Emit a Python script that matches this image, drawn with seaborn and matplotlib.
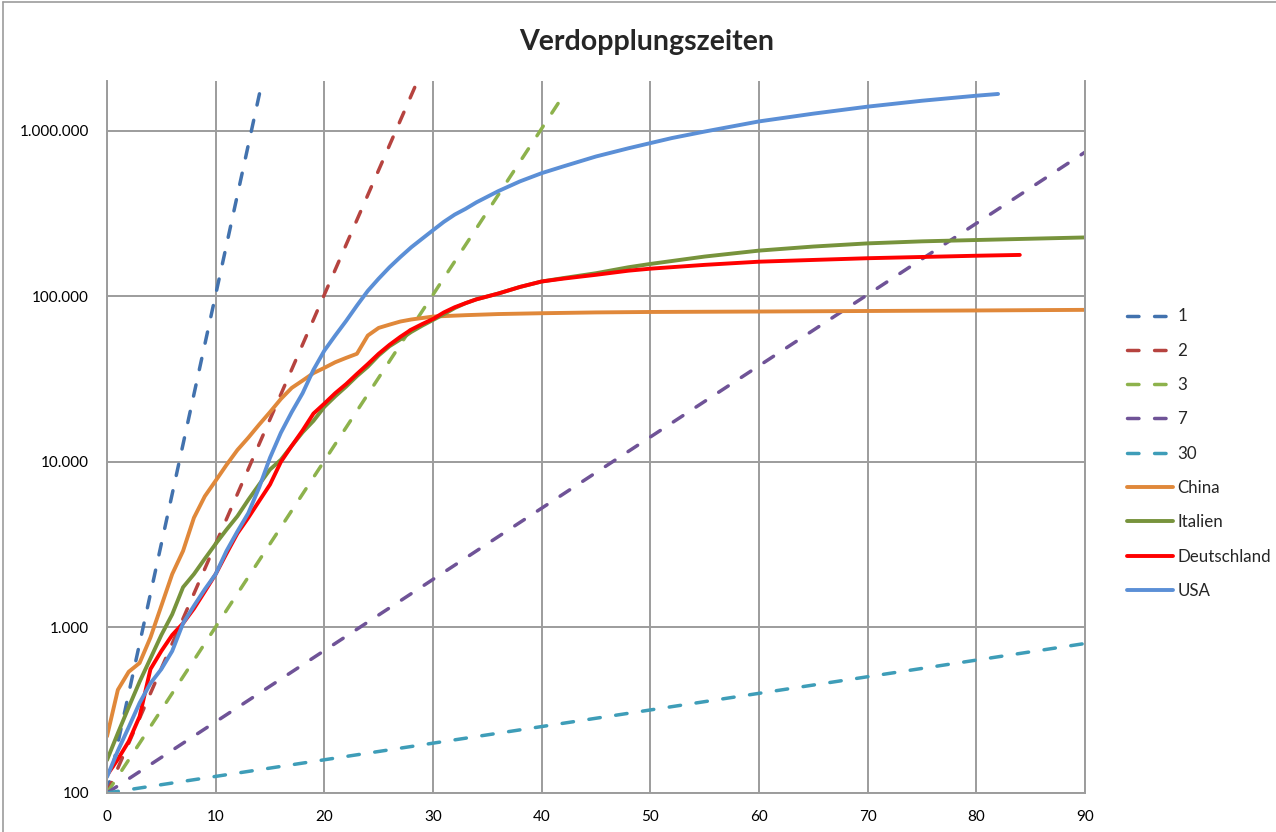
import matplotlib
matplotlib.use("Agg")
import matplotlib.pyplot as plt
import matplotlib.ticker as mtick
from matplotlib.lines import Line2D
import seaborn as sns

# Verdopplungslinien (Start 100, Verdopplung alle d Tage)
dbl_labels = ["1", "2", "3", "7", "30"]
dbl1_x, dbl1_y = [0, 15], [100, 3276800]
dbl2_x, dbl2_y = [0, 30], [100, 3276800]
dbl3_x, dbl3_y = [0, 42], [100, 1638400]
dbl7_x, dbl7_y = [0, 90], [100, 743000]
dbl30_x, dbl30_y = [0, 90], [100, 800]

# Fallzahlen (Tage seit 100 Fällen)
china_x = [0, 1, 2, 3, 4, 5, 6, 7, 8, 9, 10, 11, 12, 13, 14, 15, 16, 17, 18, 19,
           20, 21, 22, 23, 24, 25, 26, 27, 28, 30, 33, 36, 40, 45, 50, 60, 70, 80, 90]
china_y = [220, 420, 540, 610, 870, 1350, 2100, 2900, 4600, 6200, 7700, 9600,
           11800, 14000, 16800, 20000, 24000, 28000, 31000, 34400, 37000, 40000,
           42500, 45000, 58000, 64500, 67500, 70500, 72500, 75500, 77000, 78200,
           79100, 80000, 80500, 81000, 81600, 82200, 82900]

italien_x = [0, 1, 2, 3, 4, 5, 6, 7, 8, 9, 10, 11, 12, 13, 14, 15, 16, 17, 18, 19,
             20, 21, 22, 23, 24, 25, 26, 27, 28, 29, 30, 31, 32, 33, 34, 36, 38, 40,
             42, 45, 48, 50, 55, 60, 65, 70, 75, 80, 90]
italien_y = [158, 230, 330, 470, 650, 900, 1200, 1750, 2100, 2600, 3200, 3900,
             4700, 5900, 7300, 9000, 10300, 12500, 15100, 17700, 21500, 24900,
             28500, 33000, 37600, 44000, 50000, 55000, 61000, 66500, 72000, 78000,
             85000, 91000, 96000, 104000, 114000, 123000, 129000, 138000, 150000,
             157000, 174000, 189000, 200000, 209000, 215000, 219000, 227000]

deutschland_x = [0, 1, 2, 3, 4, 5, 6, 7, 8, 9, 10, 11, 12, 13, 14, 15, 16, 17, 18,
                 19, 20, 21, 22, 23, 24, 25, 26, 27, 28, 29, 30, 31, 32, 33, 34, 36,
                 38, 40, 42, 45, 48, 50, 55, 60, 65, 70, 75, 80, 84]
deutschland_y = [128, 160, 205, 290, 560, 720, 900, 1060, 1300, 1650, 2100, 2800,
                 3700, 4600, 5800, 7300, 10000, 12500, 15500, 19600, 22500, 26000,
                 29500, 34000, 39000, 45000, 51000, 57000, 63000, 68000, 73000,
                 80000, 86000, 91000, 96000, 104000, 114000, 123000, 128000,
                 135000, 143000, 147000, 155000, 162000, 166000, 170000, 173000,
                 176000, 178000]

usa_x = [0, 1, 2, 3, 4, 5, 6, 7, 8, 9, 10, 11, 12, 13, 14, 15, 16, 17, 18, 19, 20,
         21, 22, 23, 24, 25, 26, 27, 28, 29, 30, 31, 32, 33, 34, 36, 38, 40, 42, 45,
         48, 50, 52, 55, 60, 65, 70, 75, 80, 82]
usa_y = [125, 180, 250, 350, 460, 560, 720, 1060, 1350, 1700, 2100, 2900, 3800,
         4900, 7000, 10600, 15000, 20000, 26000, 36000, 47000, 58000, 71000, 88000,
         108000, 128000, 150000, 173000, 198000, 223000, 251000, 282000, 312000,
         338000, 370000, 432000, 495000, 555000, 610000, 700000, 785000, 843000,
         905000, 990000, 1140000, 1270000, 1400000, 1520000, 1630000, 1670000]

y_ticks = [100, 1000, 10000, 100000, 1000000]
y_ticklabels = ["100", "1.000", "10.000", "100.000", "1.000.000"]

FARBEN = {
    "1": "#4272AE", "2": "#B6433F", "3": "#8DB24C", "7": "#6F5397", "30": "#3E9DB8",
    "China": "#E0883A", "Italien": "#77933C", "Deutschland": "#FF0000", "USA": "#5B8FD6",
}
GRID = "#9C9C9C"

sns.set_style("white")
plt.rcParams["font.family"] = ["Lato", "DejaVu Sans"]

fig = plt.figure(figsize=(12.76, 8.32), dpi=100)
ax = fig.add_axes([107 / 1276, 39 / 832, (1085 - 107) / 1276, (793 - 81) / 832])
ax.set_yscale("log")

gestrichelt = [(dbl1_x, dbl1_y), (dbl2_x, dbl2_y), (dbl3_x, dbl3_y),
               (dbl7_x, dbl7_y), (dbl30_x, dbl30_y)]
for lab, (xs, ys) in zip(dbl_labels, gestrichelt):
    sns.lineplot(x=xs, y=ys, ax=ax, color=FARBEN[lab], lw=2.5,
                 linestyle=(0, (3.3, 4.5)), dash_capstyle="round", label=lab)

laender = [("China", china_x, china_y), ("Italien", italien_x, italien_y),
           ("Deutschland", deutschland_x, deutschland_y), ("USA", usa_x, usa_y)]
for lab, xs, ys in laender:
    sns.lineplot(x=xs, y=ys, ax=ax, color=FARBEN[lab], lw=2.8,
                 solid_capstyle="round", solid_joinstyle="round", label=lab)

ax.set_xlim(0, 90)
ax.set_ylim(100, 2000000)
ax.set_xticks(range(0, 91, 10))
ax.yaxis.set_major_locator(mtick.FixedLocator(y_ticks))
ax.yaxis.set_minor_locator(mtick.NullLocator())
ax.set_yticklabels(y_ticklabels)
ax.grid(True, which="major", color=GRID, lw=1.4)
ax.tick_params(axis="both", labelsize=11, colors="black", length=5,
               width=1.2, direction="out", color=GRID)
ax.tick_params(axis="x", pad=7)
ax.tick_params(axis="y", pad=8)
ax.spines["top"].set_visible(False)
for side in ["left", "bottom", "right"]:
    ax.spines[side].set_color(GRID)
    ax.spines[side].set_linewidth(1.4)

handles, labels = ax.get_legend_handles_labels()
if ax.get_legend() is not None:
    ax.get_legend().remove()
fig.legend(handles, labels, loc="upper left",
           bbox_to_anchor=(1119 / 1276, (832 - 300) / 832),
           frameon=False, fontsize=12.2, labelspacing=1.08, handlelength=2.7,
           handletextpad=0.25, borderpad=0)

fig.text(647 / 1276, 1 - 42 / 832, "Verdopplungszeiten", ha="center", va="center",
         fontsize=20.5, fontweight="bold")

# Rahmen des Diagrammbereichs
fig.add_artist(Line2D([3 / 1276, 3 / 1276], [0, 1 - 2 / 832], color=GRID, lw=1.2,
                      transform=fig.transFigure))
fig.add_artist(Line2D([3 / 1276, 1], [1 - 2 / 832, 1 - 2 / 832], color=GRID, lw=1.2,
                      transform=fig.transFigure))

fig.savefig("out.png", dpi=100, facecolor="white")
plt.close(fig)
